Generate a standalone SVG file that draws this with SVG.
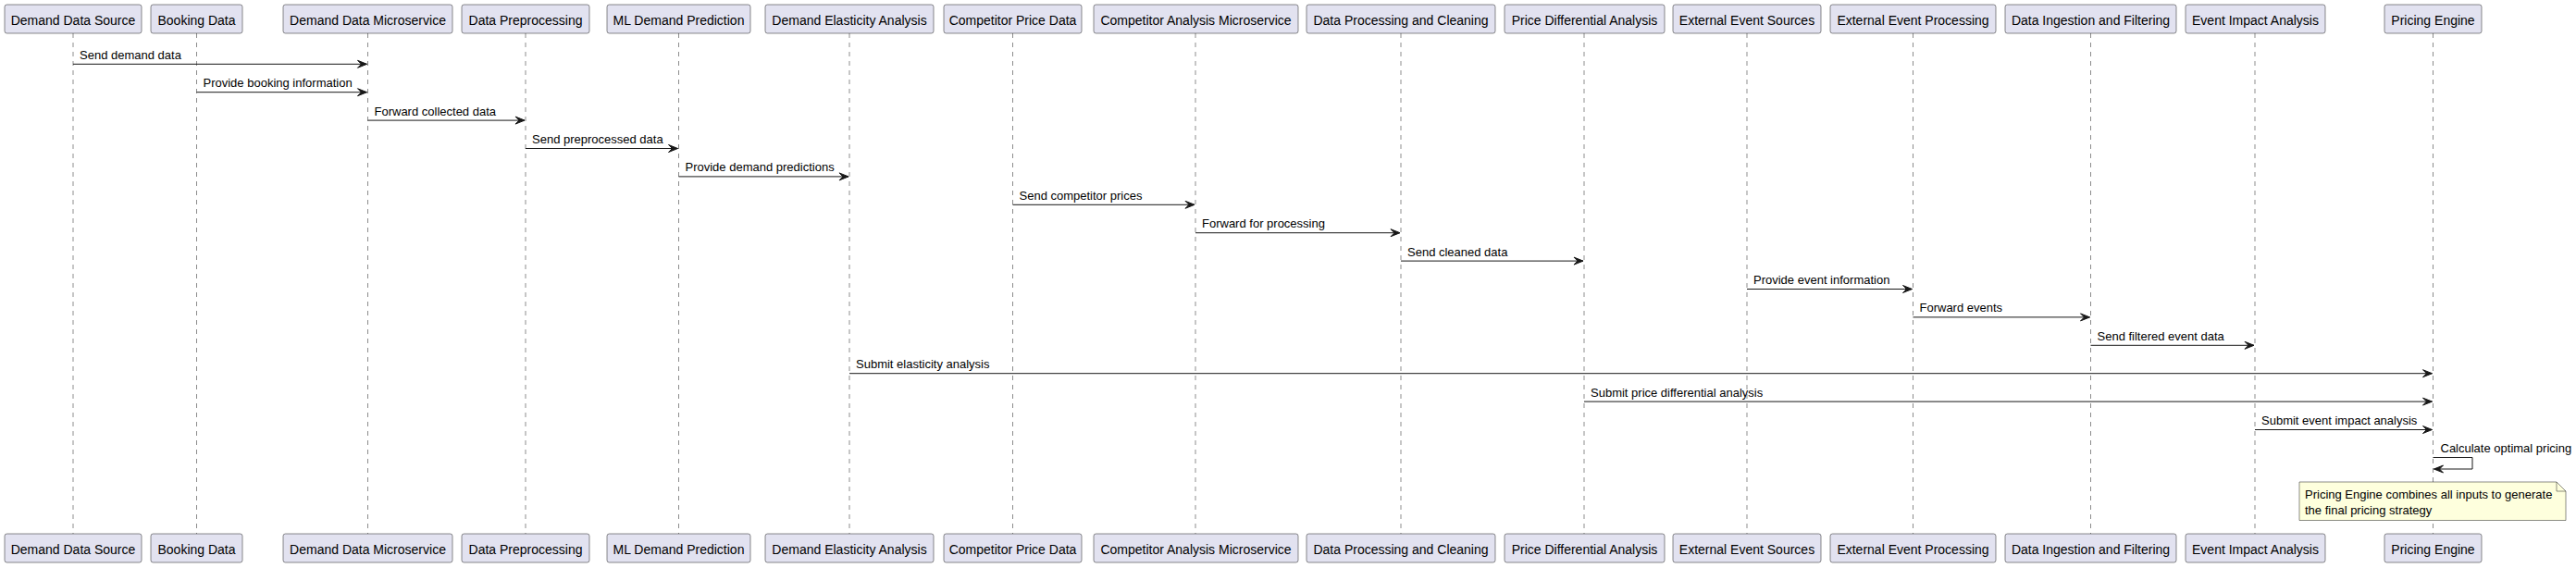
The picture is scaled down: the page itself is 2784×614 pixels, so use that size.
<svg xmlns="http://www.w3.org/2000/svg" width="2784" height="614" viewBox="0 0 2784 614">
<style>
.bg{fill:#FFFFFF}
.box rect{fill:#E2E2F0;stroke:#181818;stroke-width:0.5}
.box text{font-family:"Liberation Sans",Arial,sans-serif;font-size:14px;fill:#000000;text-anchor:middle}
.life{stroke:#181818;stroke-width:0.5;stroke-dasharray:5,5;fill:none}
.msg{stroke:#181818;stroke-width:1;fill:none;marker-end:url(#ah)}
.lbl{font-family:"Liberation Sans",Arial,sans-serif;font-size:13px;fill:#000000}
.note path{fill:#FEFFDD;stroke:#181818;stroke-width:0.5}
.note text{font-family:"Liberation Sans",Arial,sans-serif;font-size:13px;fill:#000000}
</style>
<defs>
<marker id="ah" viewBox="-12 -6 13 12" refX="0" refY="0" markerWidth="13" markerHeight="12" markerUnits="userSpaceOnUse" orient="auto">
<path d="M-10,-4 L0,0 L-10,4 L-6,0 Z" fill="#181818" stroke="#181818" stroke-width="1"/>
</marker>
</defs>
<rect class="bg" x="0" y="0" width="2784" height="614"/>
<g id="lifelines">
<line class="life" x1="79" y1="36" x2="79" y2="577"/>
<line class="life" x1="212.5" y1="36" x2="212.5" y2="577"/>
<line class="life" x1="397.5" y1="36" x2="397.5" y2="577"/>
<line class="life" x1="568" y1="36" x2="568" y2="577"/>
<line class="life" x1="733.5" y1="36" x2="733.5" y2="577"/>
<line class="life" x1="918" y1="36" x2="918" y2="577"/>
<line class="life" x1="1094.5" y1="36" x2="1094.5" y2="577"/>
<line class="life" x1="1292" y1="36" x2="1292" y2="577"/>
<line class="life" x1="1514" y1="36" x2="1514" y2="577"/>
<line class="life" x1="1712" y1="36" x2="1712" y2="577"/>
<line class="life" x1="1888" y1="36" x2="1888" y2="577"/>
<line class="life" x1="2067.5" y1="36" x2="2067.5" y2="577"/>
<line class="life" x1="2259.5" y1="36" x2="2259.5" y2="577"/>
<line class="life" x1="2437" y1="36" x2="2437" y2="577"/>
<line class="life" x1="2629.5" y1="36" x2="2629.5" y2="577"/>
</g>
<g id="p1" class="box"><rect x="5" y="5" width="148" height="31" rx="2.5"/><text x="79" y="26.5">Demand Data Source</text><rect x="5" y="577" width="148" height="31" rx="2.5"/><text x="79" y="598.5">Demand Data Source</text></g>
<g id="p2" class="box"><rect x="163" y="5" width="99" height="31" rx="2.5"/><text x="212.5" y="26.5">Booking Data</text><rect x="163" y="577" width="99" height="31" rx="2.5"/><text x="212.5" y="598.5">Booking Data</text></g>
<g id="p3" class="box"><rect x="306" y="5" width="183" height="31" rx="2.5"/><text x="397.5" y="26.5">Demand Data Microservice</text><rect x="306" y="577" width="183" height="31" rx="2.5"/><text x="397.5" y="598.5">Demand Data Microservice</text></g>
<g id="p4" class="box"><rect x="499" y="5" width="138" height="31" rx="2.5"/><text x="568" y="26.5">Data Preprocessing</text><rect x="499" y="577" width="138" height="31" rx="2.5"/><text x="568" y="598.5">Data Preprocessing</text></g>
<g id="p5" class="box"><rect x="656" y="5" width="155" height="31" rx="2.5"/><text x="733.5" y="26.5">ML Demand Prediction</text><rect x="656" y="577" width="155" height="31" rx="2.5"/><text x="733.5" y="598.5">ML Demand Prediction</text></g>
<g id="p6" class="box"><rect x="827" y="5" width="182" height="31" rx="2.5"/><text x="918" y="26.5">Demand Elasticity Analysis</text><rect x="827" y="577" width="182" height="31" rx="2.5"/><text x="918" y="598.5">Demand Elasticity Analysis</text></g>
<g id="p7" class="box"><rect x="1020" y="5" width="149" height="31" rx="2.5"/><text x="1094.5" y="26.5">Competitor Price Data</text><rect x="1020" y="577" width="149" height="31" rx="2.5"/><text x="1094.5" y="598.5">Competitor Price Data</text></g>
<g id="p8" class="box"><rect x="1182" y="5" width="221" height="31" rx="2.5"/><text x="1292.5" y="26.5">Competitor Analysis Microservice</text><rect x="1182" y="577" width="221" height="31" rx="2.5"/><text x="1292.5" y="598.5">Competitor Analysis Microservice</text></g>
<g id="p9" class="box"><rect x="1412" y="5" width="204" height="31" rx="2.5"/><text x="1514" y="26.5">Data Processing and Cleaning</text><rect x="1412" y="577" width="204" height="31" rx="2.5"/><text x="1514" y="598.5">Data Processing and Cleaning</text></g>
<g id="p10" class="box"><rect x="1626" y="5" width="173" height="31" rx="2.5"/><text x="1712.5" y="26.5">Price Differential Analysis</text><rect x="1626" y="577" width="173" height="31" rx="2.5"/><text x="1712.5" y="598.5">Price Differential Analysis</text></g>
<g id="p11" class="box"><rect x="1808" y="5" width="160" height="31" rx="2.5"/><text x="1888" y="26.5">External Event Sources</text><rect x="1808" y="577" width="160" height="31" rx="2.5"/><text x="1888" y="598.5">External Event Sources</text></g>
<g id="p12" class="box"><rect x="1978" y="5" width="179" height="31" rx="2.5"/><text x="2067.5" y="26.5">External Event Processing</text><rect x="1978" y="577" width="179" height="31" rx="2.5"/><text x="2067.5" y="598.5">External Event Processing</text></g>
<g id="p13" class="box"><rect x="2167" y="5" width="185" height="31" rx="2.5"/><text x="2259.5" y="26.5">Data Ingestion and Filtering</text><rect x="2167" y="577" width="185" height="31" rx="2.5"/><text x="2259.5" y="598.5">Data Ingestion and Filtering</text></g>
<g id="p14" class="box"><rect x="2362" y="5" width="151" height="31" rx="2.5"/><text x="2437.5" y="26.5">Event Impact Analysis</text><rect x="2362" y="577" width="151" height="31" rx="2.5"/><text x="2437.5" y="598.5">Event Impact Analysis</text></g>
<g id="p15" class="box"><rect x="2577" y="5" width="105" height="31" rx="2.5"/><text x="2629.5" y="26.5">Pricing Engine</text><rect x="2577" y="577" width="105" height="31" rx="2.5"/><text x="2629.5" y="598.5">Pricing Engine</text></g>
<g id="connectors">
<line class="msg" x1="79" y1="69.3" x2="396.5" y2="69.3"/>
<text class="lbl" x="86" y="63.8">Send demand data</text>
<line class="msg" x1="212.5" y1="99.7" x2="396.5" y2="99.7"/>
<text class="lbl" x="219.5" y="94.2">Provide booking information</text>
<line class="msg" x1="397.5" y1="130.1" x2="567" y2="130.1"/>
<text class="lbl" x="404.5" y="124.6">Forward collected data</text>
<line class="msg" x1="568" y1="160.5" x2="732.5" y2="160.5"/>
<text class="lbl" x="575" y="155">Send preprocessed data</text>
<line class="msg" x1="733.5" y1="190.9" x2="917" y2="190.9"/>
<text class="lbl" x="740.5" y="185.4">Provide demand predictions</text>
<line class="msg" x1="1094.5" y1="221.3" x2="1291" y2="221.3"/>
<text class="lbl" x="1101.5" y="215.8">Send competitor prices</text>
<line class="msg" x1="1292" y1="251.7" x2="1513" y2="251.7"/>
<text class="lbl" x="1299" y="246.2">Forward for processing</text>
<line class="msg" x1="1514" y1="282.1" x2="1711" y2="282.1"/>
<text class="lbl" x="1521" y="276.6">Send cleaned data</text>
<line class="msg" x1="1888" y1="312.5" x2="2066.5" y2="312.5"/>
<text class="lbl" x="1895" y="307">Provide event information</text>
<line class="msg" x1="2067.5" y1="342.9" x2="2258.5" y2="342.9"/>
<text class="lbl" x="2074.5" y="337.4">Forward events</text>
<line class="msg" x1="2259.5" y1="373.3" x2="2436" y2="373.3"/>
<text class="lbl" x="2266.5" y="367.8">Send filtered event data</text>
<line class="msg" x1="918" y1="403.7" x2="2628.5" y2="403.7"/>
<text class="lbl" x="925" y="398.2">Submit elasticity analysis</text>
<line class="msg" x1="1712" y1="434.1" x2="2628.5" y2="434.1"/>
<text class="lbl" x="1719" y="428.6">Submit price differential analysis</text>
<line class="msg" x1="2437" y1="464.5" x2="2628.5" y2="464.5"/>
<text class="lbl" x="2444" y="459">Submit event impact analysis</text>
<path class="msg" d="M2629.5,494.5 H2672 V507 H2630.5"/>
<text class="lbl" x="2637.5" y="489">Calculate optimal pricing</text>
</g>
<g id="note" class="note">
<path d="M2485,521 H2763 L2773,531 V562.5 H2485 Z"/>
<path d="M2763,521 V531 H2773" style="fill:none"/>
<text x="2491" y="539">Pricing Engine combines all inputs to generate</text>
<text x="2491" y="555.5">the final pricing strategy</text>
</g>
</svg>
